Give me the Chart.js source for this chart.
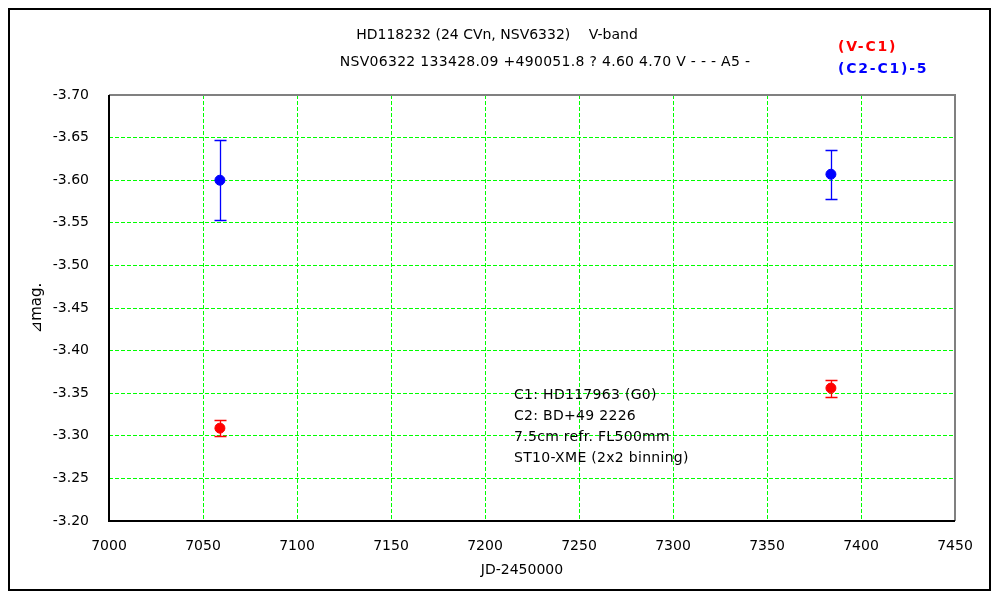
<!DOCTYPE html>
<html><head><meta charset="utf-8">
<script src="https://cdn.jsdelivr.net/npm/chart.js@4"></script>
<style>html,body{margin:0;padding:0;background:#fff}#wrap{width:1000px;height:600px;position:relative}</style>
</head><body><div id="wrap"><canvas id="c" width="1000" height="600"></canvas></div>
<script>
const jdDays = [7059, 7384];
const vMinusC1 = [-3.309, -3.356];
const vMinusC1Err = [0.009, 0.010];
const c2MinusC1 = [-3.600, -3.607];
const c2MinusC1Err = [0.047, 0.029];
const xTicks = [7000, 7050, 7100, 7150, 7200, 7250, 7300, 7350, 7400, 7450];
const yTicks = [-3.70, -3.65, -3.60, -3.55, -3.50, -3.45, -3.40, -3.35, -3.30, -3.25, -3.20];
const titleLines = ["HD118232 (24 CVn, NSV6332)\u3000 V-band", "NSV06322 133428.09 +490051.8 ? 4.60 4.70 V - - - A5 -"];
const legendLabels = ["(V-C1)", "(C2-C1)-5"];
const noteLines = ["C1: HD117963 (G0)", "C2: BD+49 2226", "7.5cm refr. FL500mm", "ST10-XME (2x2 binning)"];
const xTitle = "JD-2450000";
const yTitle = "\u22BFmag.";

const FONT = "'DejaVu Sans', sans-serif";
const errs = [vMinusC1Err, c2MinusC1Err];
const colors = ['#ff0000', '#0000ff'];

const decor = {
  id: 'decor',
  afterDatasetsDraw(chart) {
    const ctx = chart.ctx;
    const xs = chart.scales.x, ys = chart.scales.y;
    chart.data.datasets.forEach((ds, i) => {
      ctx.save();
      ctx.setLineDash([]);
      ctx.strokeStyle = colors[i]; ctx.lineWidth = 1.3;
      ds.data.forEach((p, j) => {
        const e = errs[i][j];
        const px = Math.round(xs.getPixelForValue(p.x)) + 0.5;
        const y1 = Math.round(ys.getPixelForValue(p.y - e)) + 0.5;
        const y2 = Math.round(ys.getPixelForValue(p.y + e)) + 0.5;
        ctx.beginPath();
        ctx.moveTo(px, y1); ctx.lineTo(px, y2);
        ctx.moveTo(px - 6, y1); ctx.lineTo(px + 6, y1);
        ctx.moveTo(px - 6, y2); ctx.lineTo(px + 6, y2);
        ctx.stroke();
      });
      ctx.restore();
    });
  },
  afterDraw(chart) {
    const ctx = chart.ctx, a = chart.chartArea;
    ctx.save();
    ctx.setLineDash([]);
    ctx.lineWidth = 2;
    ctx.strokeStyle = '#808080';
    ctx.beginPath();
    ctx.moveTo(a.left, a.top); ctx.lineTo(a.right, a.top); ctx.lineTo(a.right, a.bottom);
    ctx.stroke();
    ctx.strokeStyle = '#000';
    ctx.beginPath();
    ctx.moveTo(a.left, a.top); ctx.lineTo(a.left, a.bottom); ctx.lineTo(a.right, a.bottom);
    ctx.stroke();
    ctx.strokeRect(9, 9, 981, 581);
    ctx.fillStyle = '#000';
    ctx.font = "14px " + FONT;
    ctx.textAlign = 'center'; ctx.textBaseline = 'middle';
    ctx.fillText(titleLines[0], 497, 35);
    ctx.letterSpacing = '0.3px';
    ctx.fillText(titleLines[1], 545, 62);
    ctx.letterSpacing = '0px';
    ctx.fillText(xTitle, (a.left + a.right) / 2 - 10, 570);
    ctx.save();
    ctx.translate(37, (a.top + a.bottom) / 2);
    ctx.rotate(-Math.PI / 2);
    ctx.font = "15px " + FONT;
    ctx.fillText(yTitle, 0, 0);
    ctx.restore();
    ctx.textAlign = 'left';
    ctx.font = "bold 14px " + FONT;
    ctx.letterSpacing = '1.8px';
    ctx.fillStyle = colors[0];
    ctx.fillText(legendLabels[0], 838, 47);
    ctx.fillStyle = colors[1];
    ctx.fillText(legendLabels[1], 838, 69);
    ctx.letterSpacing = '0.3px';
    ctx.fillStyle = '#000';
    ctx.font = "14px " + FONT;
    noteLines.forEach((t, k) => ctx.fillText(t, 514, 395 + k * 21));
    ctx.restore();
  }
};

new Chart(document.getElementById('c'), {
  type: 'scatter',
  data: {
    datasets: [
      { label: legendLabels[0], data: jdDays.map((x, i) => ({x, y: vMinusC1[i]})),
        borderColor: colors[0], backgroundColor: colors[0], pointRadius: 5, pointHoverRadius: 5 },
      { label: legendLabels[1], data: jdDays.map((x, i) => ({x, y: c2MinusC1[i]})),
        borderColor: colors[1], backgroundColor: colors[1], pointRadius: 5, pointHoverRadius: 5 }
    ]
  },
  options: {
    responsive: false, animation: false, devicePixelRatio: 1,
    layout: { padding: { left: 0, top: 95, right: 45, bottom: 0 } },
    plugins: { legend: { display: false }, tooltip: { enabled: false }, title: { display: false } },
    scales: {
      x: {
        type: 'linear', min: 7000, max: 7450,
        afterBuildTicks: s => { s.ticks = xTicks.map(v => ({value: v})); },
        afterFit: s => { s.height = 79; },
        grid: { color: '#00ff00', lineWidth: 1, drawTicks: false },
        border: { display: false, dash: [4, 2] },
        ticks: { color: '#000', font: { family: FONT, size: 14 }, padding: 17, maxRotation: 0,
                 callback: v => String(v) }
      },
      y: {
        type: 'linear', min: -3.70, max: -3.20, reverse: true,
        afterBuildTicks: s => { s.ticks = yTicks.map(v => ({value: v})); },
        afterFit: s => { s.width = 109; },
        grid: { color: '#00ff00', lineWidth: 1, drawTicks: false },
        border: { display: false, dash: [4, 2] },
        ticks: { color: '#000', font: { family: FONT, size: 14 }, padding: 20,
                 callback: v => v.toFixed(2) }
      }
    }
  },
  plugins: [decor]
});
</script></body></html>
